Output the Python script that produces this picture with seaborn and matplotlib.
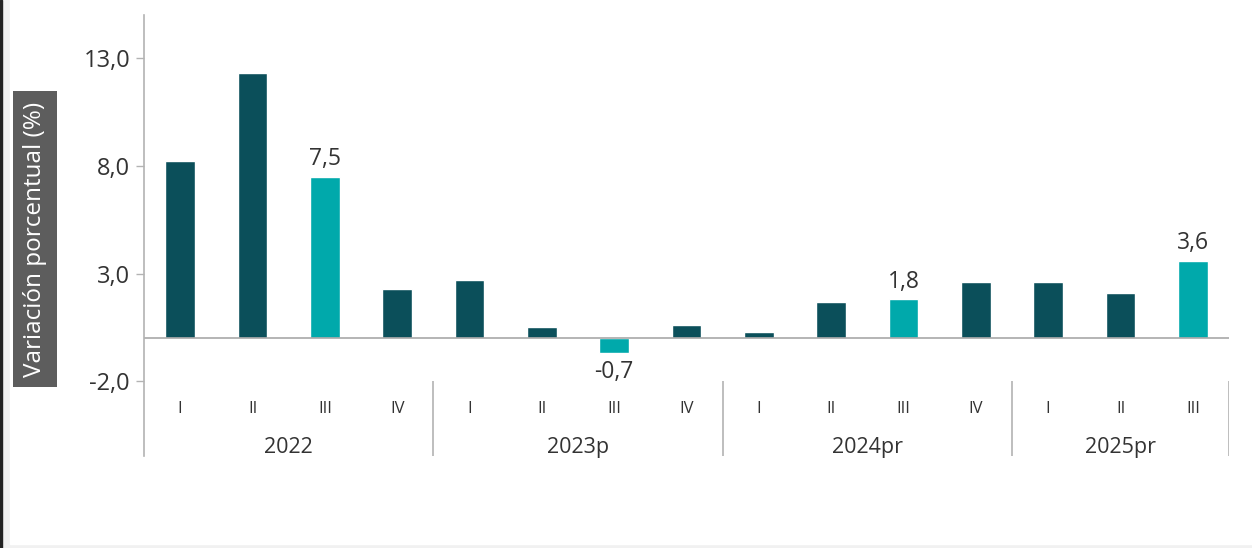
import matplotlib
matplotlib.use("Agg")
import matplotlib.pyplot as plt
from matplotlib.patches import Rectangle
import seaborn as sns
import pandas as pd

# Data
quarters = ["I", "II", "III", "IV", "I", "II", "III", "IV", "I", "II", "III", "IV", "I", "II", "III"]
years = ["2022", "2023p", "2024pr", "2025pr"]
year_sizes = [4, 4, 4, 3]
values = [8.2, 12.3, 7.5, 2.3, 2.7, 0.5, -0.7, 0.6, 0.3, 1.7, 1.8, 2.6, 2.6, 2.1, 3.6]
highlight = [False, False, True, False, False, False, True, False, False, False, True, False, False, False, True]

DARK = "#0b4f5a"
CYAN = "#00a9ab"
TEXT = "#333333"
GRID = "#b3b3b3"

sns.set_theme(style="white")
plt.rcParams['font.family'] = ['Open Sans', 'DejaVu Sans']

year_labels = []
for y, n in zip(years, year_sizes):
    year_labels += [y] * n
df = pd.DataFrame({
    "pos": [f"{y}-{q}-{i}" for i, (y, q) in enumerate(zip(year_labels, quarters))],
    "valor": values,
    "tipo": ["hl" if h else "base" for h in highlight],
})

fig = plt.figure(figsize=(12.52, 5.48), dpi=100)
# light frame around the picture
fig.patches.append(Rectangle((0, 0), 1, 1, transform=fig.transFigure, color="#f1f1f1", zorder=-3))
fig.patches.append(Rectangle((10 / 1252, 4 / 548), 1, 1, transform=fig.transFigure, color="white", zorder=-2))
fig.patches.append(Rectangle((0, 0), 2 / 1252, 1, transform=fig.transFigure, color="#222222", zorder=-1))

ax = fig.add_axes([144 / 1252, 1 - 456 / 548, 1085 / 1252, 441 / 548])
ax.set_facecolor("none")

sns.barplot(data=df, x="pos", y="valor", hue="tipo", dodge=False, width=0.41,
            palette={"base": DARK, "hl": CYAN}, legend=False, ax=ax, saturation=1)

ax.set_xlim(-0.5, len(values) - 0.5)
ax.set_ylim(-5.47, 15.0)

# spines
for s in ["top", "right", "bottom"]:
    ax.spines[s].set_visible(False)
ax.spines["left"].set_color(GRID)
ax.spines["left"].set_linewidth(1.2)

ax.axhline(0, color="#a8a8a8", lw=1.2, zorder=1)

ax.set_yticks([-2, 3, 8, 13])
ax.set_yticklabels([f"{t:.1f}".replace(".", ",") for t in [-2, 3, 8, 13]], fontsize=17, color=TEXT)
ax.tick_params(axis="y", left=True, length=6, width=1, color=GRID, pad=4)
ax.set_xticks([])
ax.set_xlabel("")
ax.set_ylabel("")

fig.text(35 / 1252, 1 - 239 / 548, "Variación porcentual (%)", rotation=90, ha="center", va="center",
         fontsize=17.5, color="white",
         bbox=dict(boxstyle="square,pad=0.42", fc="#5d5d5d", ec="none"))

# quarter labels and year group labels
for i, q in enumerate(quarters):
    ax.text(i, -3.28, q, ha="center", va="center", fontsize=12, color=TEXT)

start = 0
for y, n in zip(years, year_sizes):
    ax.text(start + (n - 1) / 2, -5.09, y, ha="center", va="center", fontsize=15.5, color=TEXT)
    end = start + n - 0.5
    ax.vlines(end, -5.47, -2.0, color=GRID, lw=1.2)
    start += n

# value labels on highlighted bars
for i, (v, h) in enumerate(zip(values, highlight)):
    if h:
        if v >= 0:
            ax.text(i, v + 0.25, f"{v:.1f}".replace(".", ","), ha="center", va="bottom",
                    fontsize=16.5, color=TEXT)
        else:
            ax.text(i, v - 0.3, f"{v:.1f}".replace(".", ","), ha="center", va="top",
                    fontsize=16.5, color=TEXT)

fig.savefig("out.png", dpi=100)
